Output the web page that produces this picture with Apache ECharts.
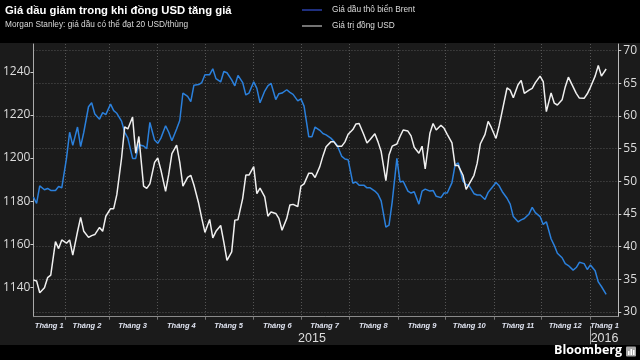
<!DOCTYPE html>
<html><head><meta charset="utf-8">
<script src="https://cdn.jsdelivr.net/npm/echarts@6/dist/echarts.min.js"></script>
<style>html,body{margin:0;padding:0;background:#000}#c{width:640px;height:360px}</style>
</head><body><div id="c"></div>
<script>
const dates = [
'2015-01-12','2015-01-14','2015-01-16','2015-01-19','2015-01-21','2015-01-23','2015-01-26','2015-01-28','2015-01-30',
'2015-02-02','2015-02-04','2015-02-06','2015-02-09','2015-02-11','2015-02-13','2015-02-16','2015-02-18','2015-02-20','2015-02-23','2015-02-25','2015-02-27',
'2015-03-02','2015-03-04','2015-03-06','2015-03-09','2015-03-11','2015-03-13','2015-03-16','2015-03-18','2015-03-20','2015-03-23','2015-03-25','2015-03-27','2015-03-30',
'2015-04-01','2015-04-03','2015-04-06','2015-04-08','2015-04-10','2015-04-13','2015-04-15','2015-04-17','2015-04-20','2015-04-22','2015-04-24','2015-04-27','2015-04-29',
'2015-05-01','2015-05-04','2015-05-06','2015-05-08','2015-05-11','2015-05-13','2015-05-15','2015-05-18','2015-05-20','2015-05-22','2015-05-25','2015-05-27','2015-05-29',
'2015-06-01','2015-06-03','2015-06-05','2015-06-08','2015-06-10','2015-06-12','2015-06-15','2015-06-17','2015-06-19','2015-06-22','2015-06-24','2015-06-26','2015-06-29',
'2015-07-01','2015-07-03','2015-07-06','2015-07-08','2015-07-10','2015-07-13','2015-07-15','2015-07-17','2015-07-20','2015-07-22','2015-07-24','2015-07-27','2015-07-29','2015-07-31',
'2015-08-03','2015-08-05','2015-08-07','2015-08-10','2015-08-12','2015-08-14','2015-08-17','2015-08-19','2015-08-21','2015-08-24','2015-08-26','2015-08-28','2015-08-31',
'2015-09-02','2015-09-04','2015-09-07','2015-09-09','2015-09-11','2015-09-14','2015-09-16','2015-09-18','2015-09-21','2015-09-23','2015-09-25','2015-09-28','2015-09-30',
'2015-10-02','2015-10-05','2015-10-07','2015-10-09','2015-10-12','2015-10-14','2015-10-16','2015-10-19','2015-10-21','2015-10-23','2015-10-26','2015-10-28','2015-10-30',
'2015-11-02','2015-11-04','2015-11-06','2015-11-09','2015-11-11','2015-11-13','2015-11-16','2015-11-18','2015-11-20','2015-11-23','2015-11-25','2015-11-27','2015-11-30',
'2015-12-02','2015-12-04','2015-12-07','2015-12-09','2015-12-11','2015-12-14','2015-12-16','2015-12-18','2015-12-21','2015-12-23','2015-12-25','2015-12-28','2015-12-30',
'2016-01-01','2016-01-04','2016-01-06','2016-01-08','2016-01-11'
];
const brent = [
47.6,46.6,49.3, 48.7,48.9,48.6, 48.6,49.2,49.0,
53.5,57.5,55.5, 58.3,55.3,57.5, 61.4,62.0,60.3, 59.5,60.5,60.2,
61.8,60.8,60.4, 59.2,57.5,56.6, 53.5,53.5,55.6, 55.4,55.0,59.0, 56.3,
55.8,56.6, 58.5,57.5,56.2, 58.0,59.3,63.5, 63.0,62.2,64.7, 64.8,65.1,
66.3, 66.3,67.2,65.7, 65.2,66.8,66.6, 65.5,64.6,66.2, 65.1,63.2,63.5,
65.2,64.2,62.0, 63.8,64.6,65.0, 62.5,63.4,63.5, 64.0,63.6,63.3, 62.3,
62.6,61.5, 56.8,56.8,58.3, 57.8,57.3,57.1, 56.6,56.1,55.5, 53.8,53.4,53.3,
49.7,49.9,49.4, 49.4,49.0,49.0, 48.5,48.0,47.0, 43.0,43.3,46.8, 53.5,
49.9,50.0, 48.5,48.2,48.4, 46.5,48.5,48.8, 48.5,48.6,47.7, 47.5,48.2,
48.2, 49.8,52.5,52.8, 50.0,49.5,49.3, 48.1,47.9,47.9, 47.2,48.3,48.9,
49.8,49.3,48.4, 47.4,46.5,44.6, 43.8,44.1,44.3, 45.0,46.0,45.2, 44.6,
43.4,43.8, 41.2,40.2,39.0, 38.3,37.4,37.1, 36.4,36.8,37.6, 37.4,36.5,
37.2, 36.3,34.6,33.9, 32.7
];
const usd = [
1143.4,1143.0,1137.5, 1139.8,1144.5,1145.7, 1161.2,1158.0,1162.0,
1160.5,1162.0,1155.0, 1165.8,1172.5,1166.0, 1163.2,1164.0,1164.5, 1167.8,1166.0,1173.0,
1176.5,1176.5,1183.0, 1199.9,1214.5,1213.5, 1219.0,1202.2,1210.0, 1187.0,1185.9,1188.0, 1198.0,
1200.0,1194.5, 1184.5,1192.5,1202.0, 1206.0,1198.0,1187.0, 1191.0,1192.0,1187.5, 1179.0,1172.0,
1165.5, 1171.5,1163.0,1166.0, 1168.7,1161.0,1152.5, 1156.5,1171.2,1171.4, 1181.3,1192.1,1192.1,
1196.0,1183.5,1186.0, 1182.0,1173.0,1175.0, 1174.3,1172.0,1166.5, 1172.0,1178.2,1178.5, 1177.5,
1187.0,1188.0, 1193.0,1193.0,1191.0, 1196.0,1201.0,1205.2, 1207.5,1207.5,1205.5, 1205.5,1207.5,1211.0,
1213.2,1215.8,1216.0, 1210.8,1207.0,1208.6, 1211.3,1207.5,1203.0, 1189.5,1201.4,1205.5, 1206.5,
1210.0,1213.0, 1212.5,1210.3,1205.0, 1202.2,1205.5,1195.0, 1211.5,1216.0,1213.0, 1215.2,1213.8,
1211.0, 1207.0,1196.5,1196.5, 1192.0,1185.5,1188.0, 1192.0,1197.5,1206.5, 1211.0,1217.0,1214.2,
1209.1,1215.0,1222.0, 1232.5,1231.5,1228.0, 1234.0,1236.0,1230.0, 1231.5,1232.3,1235.0, 1238.0,
1235.5,1221.5, 1230.2,1225.5,1224.6, 1227.0,1233.0,1237.5, 1233.0,1230.0,1227.8, 1227.7,1229.8,
1232.8, 1238.0,1242.9,1238.0, 1241.3
];
const monthStarts = ['2015-02-01','2015-03-01','2015-04-01','2015-05-01','2015-06-01','2015-07-01','2015-08-01','2015-09-01','2015-10-01','2015-11-01','2015-12-01','2016-01-01'];
const monthLabelDates = ['2015-01-22','2015-02-15','2015-03-16','2015-04-16','2015-05-16','2015-06-16','2015-07-16','2015-08-16','2015-09-16','2015-10-16','2015-11-16','2015-12-16','2016-01-10'];
const monthLabelNames = ['Tháng 1','Tháng 2','Tháng 3','Tháng 4','Tháng 5','Tháng 6','Tháng 7','Tháng 8','Tháng 9','Tháng 10','Tháng 11','Tháng 12','Tháng 1'];
const yearLabelDates = ['2015-07-08','2016-01-10'];
const yearLabelNames = ['2015','2016'];
const yearBreaks = ['2016-01-01'];
const usdTicks = [1140,1160,1180,1200,1220,1240];
const brentTicks = [30,35,40,45,50,55,60,65,70];
const seriesNames = ['Giá dầu thô biển Brent','Giá trị đồng USD'];

const SANS = '"Liberation Sans", Arial, sans-serif';
function toTs(s){ const p=s.split('-'); return new Date(+p[0], +p[1]-1, +p[2]).getTime(); }
function nearestName(list, names){
  const ts = list.map(toTs);
  return function(v){ let bi=0, bd=Infinity; ts.forEach((t,i)=>{const d=Math.abs(t-v); if(d<bd){bd=d;bi=i;}}); return names[bi]; };
}
const xMin = toTs('2015-01-12');
const xMax = toTs('2016-01-18') + 17*3600*1000;

const chart = echarts.init(document.getElementById('c'), null, {renderer:'canvas'});
chart.setOption({
  animation:false,
  backgroundColor:'#1b1b1b',
  title:{
    text:'Giá dầu giảm trong khi đồng USD tăng giá',
    subtext:'Morgan Stanley: giá dầu có thể đạt 20 USD/thùng',
    left:5, top:5, itemGap:5, padding:0,
    textStyle:{color:'#ffffff', fontSize:11.3, fontWeight:'bold', fontFamily:SANS},
    subtextStyle:{color:'#d8d8d8', fontSize:8.3, fontFamily:SANS}
  },
  legend:{
    orient:'vertical', left:302, top:5, itemWidth:20, itemHeight:1.5, itemGap:6, icon:'rect', padding:0,
    textStyle:{color:'#dddddd', fontSize:8.3, lineHeight:10, fontFamily:SANS, padding:[0,0,0,5]},
    data:[{name:seriesNames[0], itemStyle:{color:'#2a3fa8'}},{name:seriesNames[1], itemStyle:{color:'#9a9a9a'}}]
  },
  grid:{left:32, right:19.3, top:44, bottom:43.3},
  xAxis:[
    {type:'value', min:xMin, max:xMax,
     axisLine:{show:true, lineStyle:{color:'#8a8a8a'}},
     axisTick:{show:true, customValues:monthStarts.map(toTs), length:3, lineStyle:{color:'#777'}},
     axisLabel:{customValues:monthLabelDates.map(toTs), formatter:nearestName(monthLabelDates, monthLabelNames), color:'#dfe3f0', fontSize:7.5, fontStyle:'italic', fontWeight:'bold', fontFamily:SANS, margin:5},
     splitLine:{show:true, lineStyle:{color:'#555555', type:[1,2]}}},
    {type:'value', min:xMin, max:xMax, position:'bottom', offset:9.5,
     axisLine:{show:false},
     axisTick:{show:true, customValues:yearBreaks.map(toTs), length:18, lineStyle:{color:'#aaaaaa'}},
     axisLabel:{customValues:yearLabelDates.map(toTs), formatter:nearestName(yearLabelDates, yearLabelNames), color:'#dddddd', fontSize:12.5, fontFamily:SANS, margin:6},
     splitLine:{show:false}}
  ],
  yAxis:[
    {type:'value', position:'left', min:1126.4, max:1252.9,
     axisLine:{show:true, lineStyle:{color:'#aaaaaa'}},
     axisTick:{show:true, customValues:usdTicks, length:3, lineStyle:{color:'#cccccc'}},
     axisLabel:{customValues:usdTicks, formatter:(v)=>String(v), color:'#dddddd', fontSize:12, fontFamily:'Open Sans', margin:3},
     splitLine:{show:false}},
    {type:'value', position:'right', min:29.28, max:71.0,
     axisLine:{show:true, lineStyle:{color:'#bbbbbb'}},
     axisTick:{show:true, customValues:brentTicks, length:3, lineStyle:{color:'#cccccc'}},
     axisLabel:{customValues:brentTicks, formatter:(v)=>String(v), color:'#dddddd', fontSize:12, fontFamily:'Open Sans', margin:5},
     splitLine:{show:true, lineStyle:{color:'#555555', type:[1,2]}}}
  ],
  graphic:[
    {type:'rect', left:0, top:0, z:-100, shape:{width:640, height:43}, style:{fill:'#000'}},
    {type:'rect', left:0, top:345, z:-100, shape:{width:640, height:15}, style:{fill:'#000'}},
    {type:'text', right:18, top:344, z:100, style:{text:'Bloomberg', fill:'#ffffff', fontSize:12.5, fontWeight:'bold', fontFamily:'Open Sans'}},
    {type:'rect', left:626, top:346.5, z:100, shape:{width:10, height:10, r:1}, style:{fill:'#a8a8a8'}},
    {type:'rect', left:628, top:351, z:101, shape:{width:1.5, height:4}, style:{fill:'#fff'}},
    {type:'rect', left:630.5, top:349, z:101, shape:{width:1.5, height:6}, style:{fill:'#fff'}},
    {type:'rect', left:633, top:350, z:101, shape:{width:1.5, height:5}, style:{fill:'#fff'}}
  ],
  series:[
    {name:seriesNames[0], type:'line', xAxisIndex:0, yAxisIndex:1, symbol:'none', z:2,
     data:dates.map((d,i)=>[toTs(d), brent[i]]),
     lineStyle:{color:'#2b80dc', width:1.5}, itemStyle:{color:'#2b80dc'}},
    {name:seriesNames[1], type:'line', xAxisIndex:0, yAxisIndex:0, symbol:'none', z:3,
     data:dates.map((d,i)=>[toTs(d), usd[i]]),
     lineStyle:{color:'#f0f0f0', width:1.5}, itemStyle:{color:'#f0f0f0'}}
  ]
});
</script>
</body></html>
